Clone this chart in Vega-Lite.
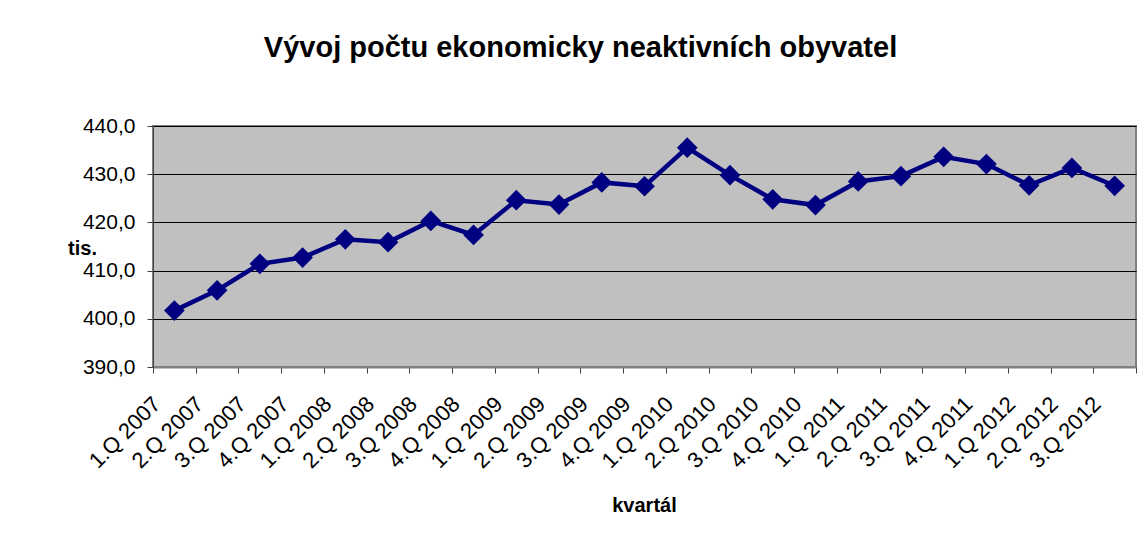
{
  "$schema": "https://vega.github.io/schema/vega-lite/v6.json",
  "autosize": {"type": "none"},
  "padding": {"left": 153, "top": 126, "right": 9, "bottom": 173},
  "width": 983,
  "height": 241,
  "background": "white",
  "title": {
    "text": "Vývoj počtu ekonomicky neaktivních obyvatel",
    "font": "Liberation Sans",
    "fontSize": 29,
    "fontWeight": "bold",
    "color": "black",
    "anchor": "middle",
    "dx": -64,
    "offset": 52
  },
  "config": {
    "locale": {"number": {"decimal": ",", "thousands": " ", "grouping": [3], "currency": ["", " Kč"]}},
    "view": {"fill": "#C0C0C0", "stroke": "#808080", "strokeWidth": 2},
    "font": "Liberation Sans"
  },
  "data": {
    "values": [
      {"kvartal": "1.Q 2007", "value": 401.7},
      {"kvartal": "2.Q 2007", "value": 405.9},
      {"kvartal": "3.Q 2007", "value": 411.4},
      {"kvartal": "4.Q 2007", "value": 412.7},
      {"kvartal": "1.Q 2008", "value": 416.5},
      {"kvartal": "2.Q 2008", "value": 415.9},
      {"kvartal": "3.Q 2008", "value": 420.3},
      {"kvartal": "4.Q 2008", "value": 417.4},
      {"kvartal": "1.Q 2009", "value": 424.6},
      {"kvartal": "2.Q 2009", "value": 423.7},
      {"kvartal": "3.Q 2009", "value": 428.3},
      {"kvartal": "4.Q 2009", "value": 427.5},
      {"kvartal": "1.Q 2010", "value": 435.5},
      {"kvartal": "2.Q 2010", "value": 429.8},
      {"kvartal": "3.Q 2010", "value": 424.8},
      {"kvartal": "4.Q 2010", "value": 423.6},
      {"kvartal": "1.Q 2011", "value": 428.5},
      {"kvartal": "2.Q 2011", "value": 429.6},
      {"kvartal": "3.Q 2011", "value": 433.6},
      {"kvartal": "4.Q 2011", "value": 432.1},
      {"kvartal": "1.Q 2012", "value": 427.7},
      {"kvartal": "2.Q 2012", "value": 431.3},
      {"kvartal": "3.Q 2012", "value": 427.6}
    ]
  },
  "encoding": {
    "x": {
      "field": "kvartal",
      "type": "ordinal",
      "sort": null,
      "scale": {"type": "band", "paddingInner": 0, "paddingOuter": 0},
      "axis": {
        "title": "kvartál",
        "titleFont": "Liberation Sans",
        "titleFontSize": 20,
        "titleFontWeight": "bold",
        "titleColor": "black",
        "titleX": 491,
        "titleY": 138,
        "titleBaseline": "middle",
        "titleAlign": "center",
        "labelAngle": -45,
        "labelFont": "Liberation Sans",
        "labelFontSize": 22,
        "labelColor": "black",
        "labelPadding": 20,
        "labelOffset": -25,
        "tickBand": "extent",
        "tickColor": "#404040",
        "tickSize": 6,
        "domainColor": "#808080",
        "domainWidth": 2,
        "grid": false
      }
    },
    "y": {
      "field": "value",
      "type": "quantitative",
      "scale": {"domain": [390, 440], "nice": false, "zero": false},
      "axis": {
        "values": [390, 400, 410, 420, 430, 440],
        "format": ".1f",
        "title": "tis.",
        "titleFont": "Liberation Sans",
        "titleFontSize": 20,
        "titleFontWeight": "bold",
        "titleColor": "black",
        "titleAngle": 0,
        "titleX": -71,
        "titleY": 122,
        "titleAlign": "center",
        "titleBaseline": "middle",
        "labelFont": "Liberation Sans",
        "labelFontSize": 21,
        "labelColor": "black",
        "labelPadding": 12,
        "tickColor": "#404040",
        "tickSize": 6,
        "domainColor": "#404040",
        "domainWidth": 1,
        "grid": true,
        "gridColor": "black",
        "gridOpacity": 1,
        "gridWidth": 1
      }
    }
  },
  "layer": [
    {"mark": {"type": "line", "color": "#000080", "strokeWidth": 4.5}},
    {"mark": {"type": "point", "shape": "diamond", "filled": true, "color": "#000080", "opacity": 1, "size": 430}}
  ]
}
